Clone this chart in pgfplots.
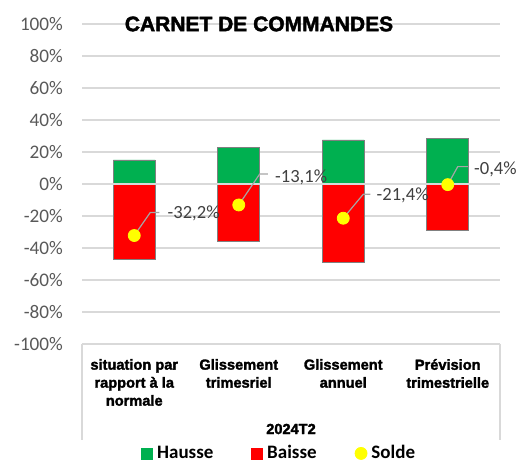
\documentclass[border=0pt]{standalone}
\usepackage{fontspec}
\usepackage{pgfplots}
\pgfplotsset{compat=1.18}
\setmainfont{Carlito}
\newfontfamily\heavy{Liberation Sans}[BoldFeatures={FakeBold=2}]
\definecolor{hausse}{RGB}{0,176,80}
\definecolor{baisse}{RGB}{255,0,0}
\definecolor{solde}{RGB}{255,255,0}
\definecolor{gridc}{RGB}{217,217,217}
\definecolor{tickc}{RGB}{89,89,89}
\definecolor{labc}{RGB}{64,64,64}
\definecolor{leadc}{RGB}{166,166,166}

\begin{document}
\begin{tikzpicture}
\begin{axis}[
    name=ax,
    at={(41pt,60pt)}, anchor=south west,
    scale only axis,
    width=209pt, height=160pt,
    xmin=-0.5, xmax=3.5,
    ymin=-100, ymax=100,
    clip=false,
    separate axis lines,
    axis x line*=bottom,
    axis y line*=left,
    x axis line style={draw=gridc, line width=0.75pt},
    y axis line style={draw=none},
    major tick length=0pt,
    ymajorgrids=true,
    grid style={draw=gridc, line width=0.75pt},
    ytick={-100,-80,-60,-40,-20,0,20,40,60,80,100},
    yticklabels={-100\%,-80\%,-60\%,-40\%,-20\%,0\%,20\%,40\%,60\%,80\%,100\%},
    yticklabel style={font=\fontsize{9.6}{11}\selectfont, text=tickc, xshift=-6pt},
    xtick={0,1,2,3},
    xticklabels={{situation par\\rapport à la\\normale},{Glissement\\trimesriel},{Glissement\\annuel},{Prévision\\trimestrielle}},
    xticklabel style={align=center, font=\heavy\bfseries\fontsize{7.3}{9}\selectfont, yshift=-4pt},
    ybar, bar width=0.4, bar shift=0pt,
    legend columns=3,
    legend style={at={(0.141,-0.342)}, anchor=west, draw=none, fill=none, inner sep=0pt,
        font=\bfseries\fontsize{9.5}{11}\selectfont,
        /tikz/every even column/.append style={column sep=17pt}},
]
\addplot[fill=hausse, draw=gray, line width=0.4pt,
    legend image code/.code={\fill[hausse] (0pt,-2.75pt) rectangle (5.5pt,2.75pt);}]
    coordinates {(0,15.0) (1,22.6) (2,27.5) (3,28.3)};
\addlegendentry{Hausse}
\addplot[fill=baisse, draw=gray, line width=0.4pt,
    legend image code/.code={\fill[baisse] (0pt,-2.75pt) rectangle (5.5pt,2.75pt);}]
    coordinates {(0,-47.2) (1,-35.7) (2,-48.9) (3,-28.7)};
\addlegendentry{Baisse}
\draw[gridc, line width=0.75pt] (axis cs:-0.5,0) -- (axis cs:3.5,0);
% leader lines and data labels
\draw[leadc, line width=0.6pt] (axis cs:0,-32.2) -- ++(8pt,11.5pt) -- ++(4.5pt,0pt);
\node[anchor=west, inner sep=0pt, text=labc, font=\fontsize{9.3}{11}\selectfont] at (axis cs:0,-32.2) [xshift=16.5pt, yshift=11pt] {-32,2\%};
\draw[leadc, line width=0.6pt] (axis cs:1,-13.1) -- ++(10.5pt,15.5pt) -- ++(4pt,0pt);
\node[anchor=west, inner sep=0pt, text=labc, font=\fontsize{9.3}{11}\selectfont] at (axis cs:1,-13.1) [xshift=18pt, yshift=14pt] {-13,1\%};
\draw[leadc, line width=0.6pt] (axis cs:2,-21.4) -- ++(10pt,12pt) -- ++(3.5pt,0pt);
\node[anchor=west, inner sep=0pt, text=labc, font=\fontsize{9.3}{11}\selectfont] at (axis cs:2,-21.4) [xshift=16.5pt, yshift=11.5pt] {-21,4\%};
\draw[leadc, line width=0.6pt] (axis cs:3,-0.4) -- ++(5pt,9pt) -- ++(5pt,0pt);
\node[anchor=west, inner sep=0pt, text=labc, font=\fontsize{9.3}{11}\selectfont] at (axis cs:3,-0.4) [xshift=13pt, yshift=7.5pt] {-0,4\%};
\addplot[only marks, mark=*, mark size=3pt, mark options={fill=solde, draw=solde},
    legend image code/.code={\fill[solde] (2.75pt,0pt) circle (3pt);}]
    coordinates {(0,-32.2) (1,-13.1) (2,-21.4) (3,-0.4)};
\addlegendentry{Solde}
\end{axis}
\draw[gridc, line width=0.75pt] (41pt,60pt) -- (41pt,12pt);
\draw[gridc, line width=0.75pt] (250pt,60pt) -- (250pt,12pt);
\node[font=\heavy\bfseries\fontsize{7.3}{9}\selectfont] at (145.5pt,17.5pt) {2024T2};
\node[font=\heavy\bfseries\fontsize{10.5}{12}\selectfont] at (129.5pt,220pt) {CARNET DE COMMANDES};
\pgfresetboundingbox
\path[use as bounding box] (0pt,0pt) rectangle (258.5pt,232pt);
\end{tikzpicture}
\end{document}
